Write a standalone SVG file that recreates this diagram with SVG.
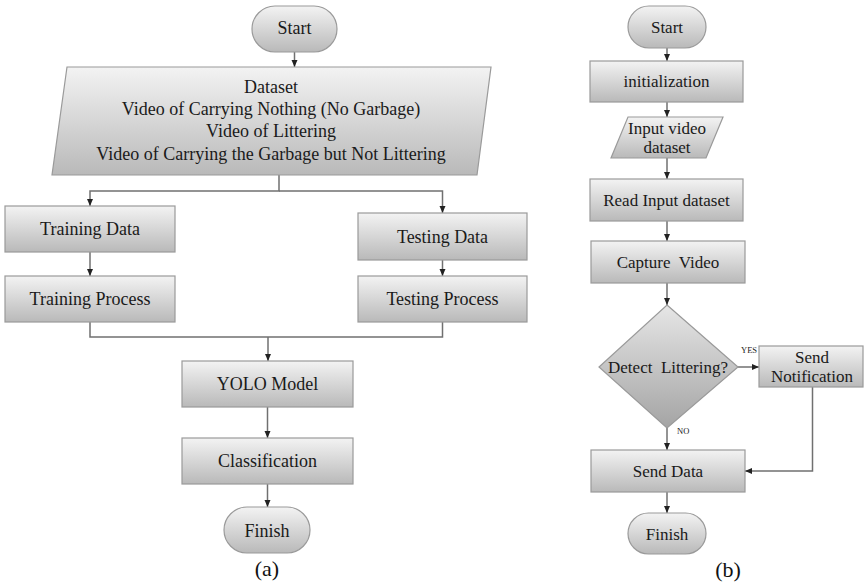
<svg xmlns="http://www.w3.org/2000/svg" width="864" height="588" viewBox="0 0 864 588">
<defs>
<linearGradient id="g" x1="0" y1="0" x2="0" y2="1">
<stop offset="0" stop-color="#f3f3f3"/>
<stop offset="1" stop-color="#b9b9b9"/>
</linearGradient>
<linearGradient id="gd" x1="0" y1="0" x2="0" y2="1">
<stop offset="0" stop-color="#e6e6e6"/>
<stop offset="1" stop-color="#a4a4a4"/>
</linearGradient>
<marker id="ah" markerUnits="userSpaceOnUse" markerWidth="7" markerHeight="7" refX="7" refY="3.5" orient="auto">
<path d="M0,0.5 L7,3.5 L0,6.5 z" fill="#222"/>
</marker>
</defs>
<style>
.n{fill:url(#g);stroke:#9a9a9a;stroke-width:1.2}
.d{fill:url(#gd);stroke:#9a9a9a;stroke-width:1.2}
.t{font-family:"Liberation Serif","Times New Roman",serif;font-size:18px;fill:#1a1a1a;text-anchor:middle;white-space:pre}
.tb{font-family:"Liberation Serif","Times New Roman",serif;font-size:17px;fill:#1a1a1a;text-anchor:middle;white-space:pre}
.s{font-family:"Liberation Serif","Times New Roman",serif;font-size:8.5px;fill:#1a1a1a;text-anchor:start}
.cap{font-family:"Liberation Serif","Times New Roman",serif;font-size:22px;fill:#111;text-anchor:middle}
.c{fill:none;stroke:#707070;stroke-width:1.5}
.c.a{marker-end:url(#ah)}
</style>
<rect width="864" height="588" fill="#fff"/>

<g id="connectors">
<path class="c a" d="M294.5 52 V67"/>
<path class="c a" d="M279 175 V191 H90 V206"/>
<path class="c a" d="M279 191 H442.5 V213"/>
<path class="c a" d="M90 252 V276"/>
<path class="c a" d="M442.5 260 V276"/>
<path class="c" d="M90 322 V337 H442.5 V322"/>
<path class="c a" d="M268 337 V361"/>
<path class="c a" d="M267.5 407 V438"/>
<path class="c a" d="M267.5 484 V507"/>

<path class="c a" d="M667 48 V61"/>
<path class="c a" d="M667 102 V117"/>
<path class="c a" d="M667 158 V179"/>
<path class="c a" d="M667 221 V241"/>
<path class="c a" d="M667 283 V305"/>
<path class="c a" d="M738 367 H759"/>
<path class="c a" d="M667 428 V450"/>
<path class="c a" d="M812.5 387 V471 H745"/>
<path class="c a" d="M667 492 V513"/>
</g>

<g id="a-start">
<rect class="n" x="252" y="6" width="85" height="46" rx="23" ry="23"/>
<text class="t" x="294.5" y="34">Start</text>
</g>
<g id="a-dataset">
<polygon class="n" points="67,67 491,67 477,175 52,175"/>
<text class="t" x="271" y="93">Dataset</text>
<text class="t" x="271" y="115">Video of Carrying Nothing (No Garbage)</text>
<text class="t" x="271" y="137">Video of Littering</text>
<text class="t" x="271" y="160">Video of Carrying the Garbage but Not Littering</text>
</g>
<g id="a-training-data">
<rect class="n" x="5" y="206" width="170" height="46"/>
<text class="t" x="90" y="235">Training Data</text>
</g>
<g id="a-training-process">
<rect class="n" x="5" y="276" width="170" height="46"/>
<text class="t" x="90" y="305">Training Process</text>
</g>
<g id="a-testing-data">
<rect class="n" x="358" y="213" width="169" height="47"/>
<text class="t" x="442.5" y="243">Testing Data</text>
</g>
<g id="a-testing-process">
<rect class="n" x="358" y="276" width="169" height="46"/>
<text class="t" x="442.5" y="305">Testing Process</text>
</g>
<g id="a-yolo">
<rect class="n" x="182" y="361" width="171" height="46"/>
<text class="t" x="267.5" y="390">YOLO Model</text>
</g>
<g id="a-classification">
<rect class="n" x="182" y="438" width="171" height="46"/>
<text class="t" x="267.5" y="467">Classification</text>
</g>
<g id="a-finish">
<rect class="n" x="224" y="507" width="86" height="46" rx="23" ry="23"/>
<text class="t" x="267" y="537">Finish</text>
</g>
<text class="cap" x="267" y="576">(a)</text>

<g id="b-start">
<rect class="n" x="628" y="6" width="78" height="42" rx="21" ry="21"/>
<text class="tb" x="667" y="33">Start</text>
</g>
<g id="b-init">
<rect class="n" x="590" y="61" width="153" height="41"/>
<text class="tb" x="666.5" y="87">initialization</text>
</g>
<g id="b-input">
<polygon class="n" points="628,117 723,117 706,158 611,158"/>
<text class="tb" x="667" y="134">Input video</text>
<text class="tb" x="667" y="153">dataset</text>
</g>
<g id="b-read">
<rect class="n" x="590" y="179" width="153" height="42"/>
<text class="tb" x="666.5" y="206">Read Input dataset</text>
</g>
<g id="b-capture">
<rect class="n" x="591" y="241" width="154" height="42"/>
<text class="tb" x="668" y="268">Capture  Video</text>
</g>
<g id="b-detect">
<polygon class="d" points="667,305 738,367 667,428 599,367"/>
<text class="tb" x="668" y="373">Detect  Littering?</text>
</g>
<g id="b-notify">
<rect class="n" x="759" y="346" width="104" height="41"/>
<text class="tb" x="812" y="363">Send</text>
<text class="tb" x="812" y="382">Notification</text>
</g>
<g id="b-senddata">
<rect class="n" x="591" y="450" width="154" height="42"/>
<text class="tb" x="668" y="477">Send Data</text>
</g>
<g id="b-finish">
<rect class="n" x="628" y="513" width="78" height="41" rx="20.5" ry="20.5"/>
<text class="tb" x="667" y="540">Finish</text>
</g>
<text class="s" x="741" y="353">YES</text>
<text class="s" x="677" y="434">NO</text>
<text class="cap" x="728" y="577">(b)</text>
</svg>
